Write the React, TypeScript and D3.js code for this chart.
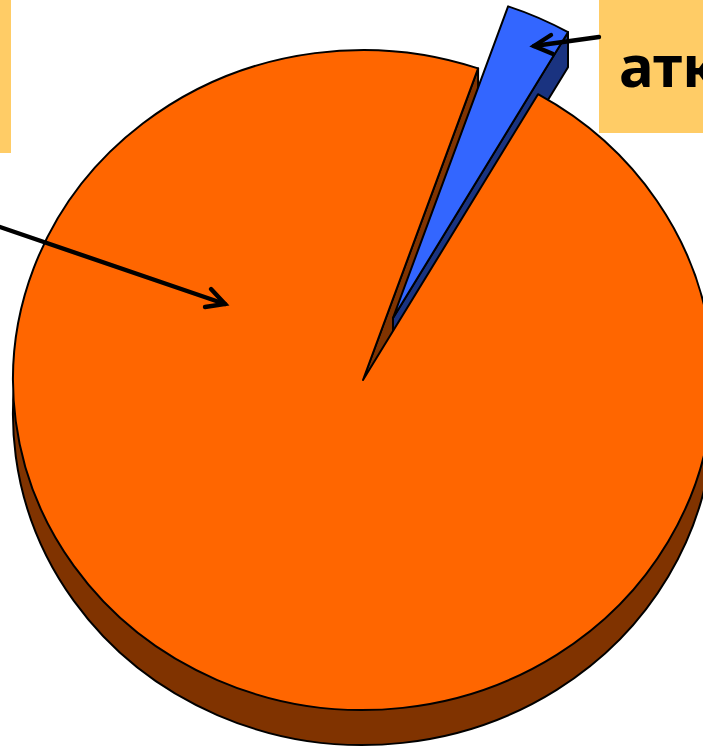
import React from "react";
import * as d3 from "d3";

const categories = ["Other", "Attack"];
const shares = [97, 3];
const labelText = "атк";
const sliceColors = ["#FF6600", "#3366FF"];
const sideColors = ["#803300", "#1A3380"];

const W = 703, H = 748;
const cx = 363, cy = 380, rx = 350, ry = 330, depth = 35;
const explode = { x: 30, y: -62 };
const startDeg = 30;

export default function App() {
  const toRad = (d: number) => (d * Math.PI) / 180;
  const data = shares.map((v, i) => ({ v, name: categories[i], i }));
  const arcs = d3
    .pie<any>()
    .value((d) => d.v)
    .sort(null)
    .startAngle(toRad(startDeg))
    .endAngle(toRad(startDeg + 360))(data);
  const arc = d3.arc<any>().innerRadius(0).outerRadius(rx);
  const orange = arcs[0];
  const blue = arcs[1];
  const sy = ry / rx;
  const pt = (a: number) => [rx * Math.sin(a), -ry * Math.cos(a)];
  const poly = d3.line();

  const sliceTf = (dx: number, dy: number) => `translate(${cx + dx},${cy + dy}) scale(1,${sy})`;
  const common = { stroke: "#000", strokeWidth: 2, strokeLinejoin: "round" as const, vectorEffect: "non-scaling-stroke" as const };

  const wall = (a: number, dx: number, dy: number) => {
    const [x, y] = pt(a);
    const p: [number, number][] = [
      [cx + dx, cy + dy],
      [cx + dx + x, cy + dy + y],
      [cx + dx + x, cy + dy + y + depth],
      [cx + dx, cy + dy + depth],
    ];
    return poly(p) + "Z";
  };

  const arrow = (x0: number, y0: number, x1: number, y1: number, b1: number[], b2: number[]) => (
    <g fill="none" stroke="#000" strokeWidth={4.4} strokeLinecap="round" strokeLinejoin="miter">
      <line x1={x0} y1={y0} x2={x1} y2={y1} />
      <polyline points={`${b1[0]},${b1[1]} ${x1},${y1} ${b2[0]},${b2[1]}`} />
    </g>
  );

  return (
    <svg
      width={W}
      height={H}
      viewBox={`0 0 ${W} ${H}`}
      style={{ position: "absolute", left: 0, top: 0, display: "block", background: "#fff" }}
    >
      <rect x={0} y={0} width={11} height={153} fill="#FFCC66" />
      <rect x={599} y={0} width={104} height={133} fill="#FFCC66" />
      <text x={619} y={87} fontFamily="'Noto Sans', 'Open Sans', sans-serif" fontWeight={700} fontSize={58} fill="#000">
        {labelText}
      </text>

      {/* orange slice: underside, then the wall seen through the notch */}
      <path d={arc(orange) as string} transform={sliceTf(0, depth)} fill={sideColors[0]} {...common} />
      <path d={wall(orange.endAngle, 0, 0)} fill={sideColors[0]} {...common} />

      {/* exploded blue slice */}
      <path d={wall(blue.endAngle, explode.x, explode.y)} fill={sideColors[1]} {...common} />
      <path d={arc(blue) as string} transform={sliceTf(explode.x, explode.y)} fill={sliceColors[1]} {...common} />

      {/* orange top */}
      <path d={arc(orange) as string} transform={sliceTf(0, 0)} fill={sliceColors[0]} {...common} />

      {arrow(599, 37, 534, 46, [551, 35], [553, 54])}
      {arrow(0, 227, 225, 304, [211, 289], [205, 307])}
    </svg>
  );
}
